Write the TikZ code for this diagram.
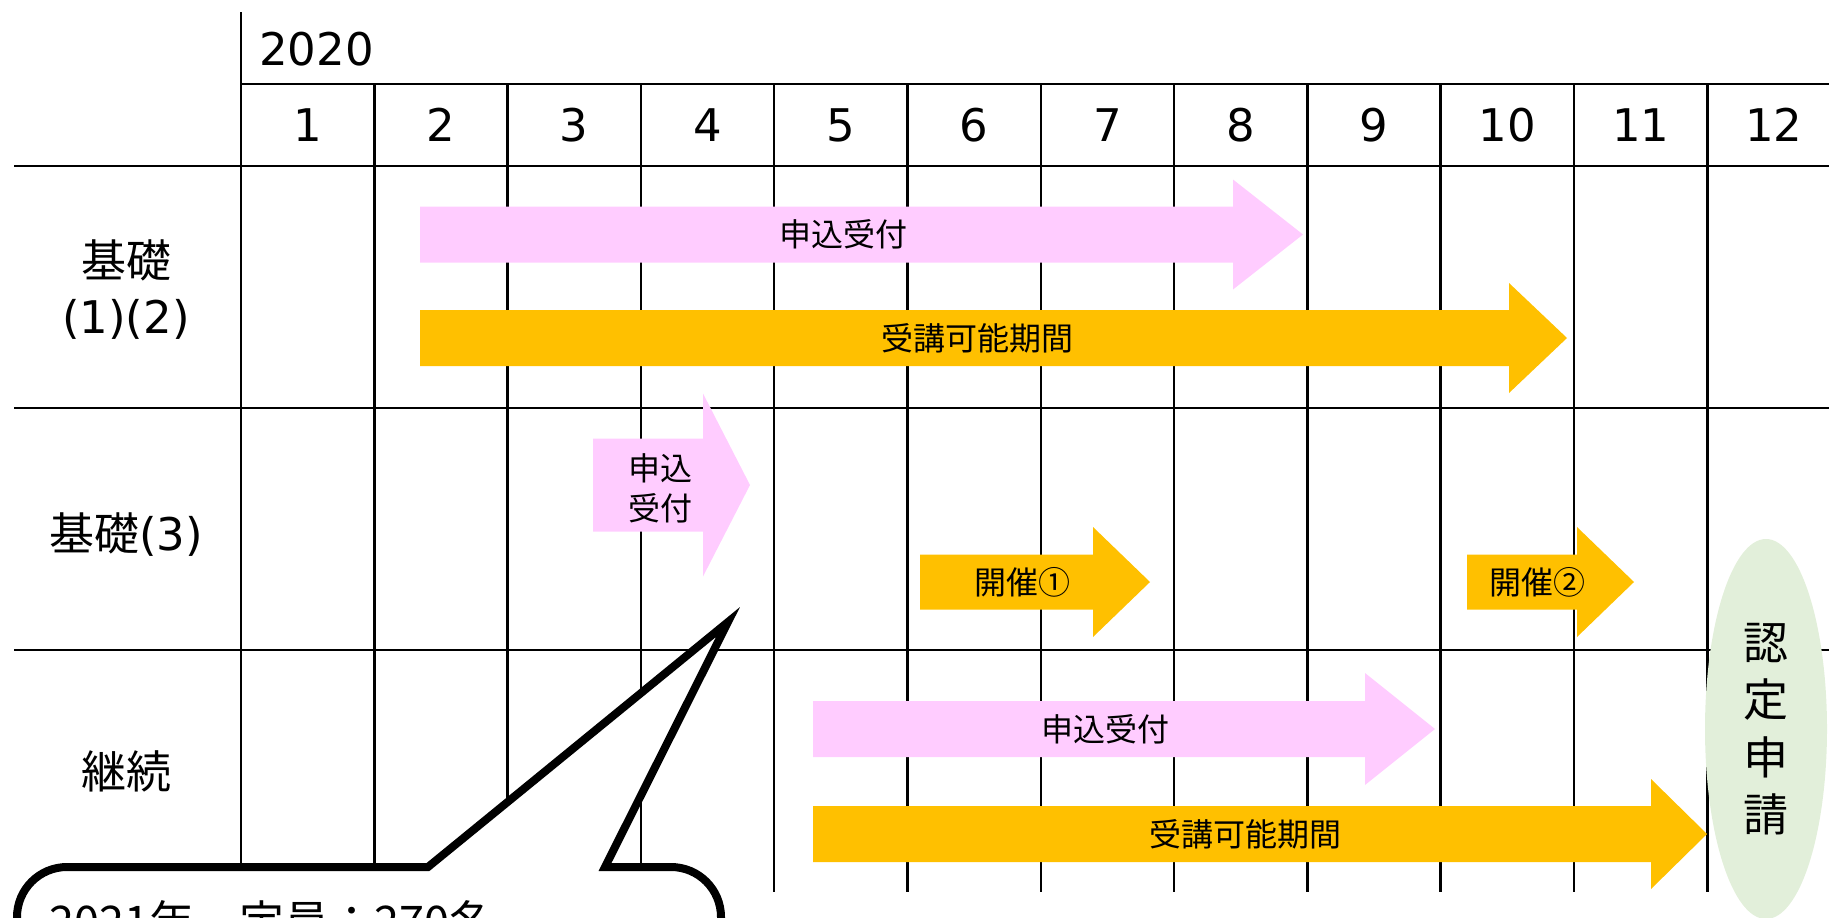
\documentclass[tikz,border=0pt]{standalone}
\usepackage{fontspec}
\usetikzlibrary{shapes.geometric}
\setmainfont{DejaVu Sans}
\newfontfamily\cjk{Noto Sans CJK JP}
\definecolor{pinkA}{HTML}{FFCCFF}
\definecolor{orangeA}{HTML}{FFC000}
\definecolor{greenA}{HTML}{E2EFDA}
\newcommand\barrow[7]{%
  \fill[#1] (#2,#5-#6) -- (#3,#5-#6) -- (#3,#5-#7) -- (#4,#5) -- (#3,#5+#7) -- (#3,#5+#6) -- (#2,#5+#6) -- cycle;}
\begin{document}
\begin{tikzpicture}[x=1pt,y=-1pt,
  gridline/.style={line width=2.5pt, black},
  big/.style={font=\fontsize{45}{54}\selectfont, inner sep=0pt, text height=33pt, text depth=0pt},
  bigj/.style={font=\cjk\fontsize{45}{54}\selectfont, inner sep=0pt, text height=33pt, text depth=0pt},
  lab/.style={font=\cjk\fontsize{32}{38}\selectfont, inner sep=0pt, text height=23.5pt, text depth=0pt},
  pinkbar/.style={fill=pinkA},
  orangebar/.style={fill=orangeA},
  callout/.style={fill=white, draw=black, line width=8pt, line join=miter},
]
\useasboundingbox (0,0) rectangle (1829,918);
\clip (0,0) rectangle (1829,918);
% grid
\draw[gridline] (241,12) -- (241,892);
\foreach \k in {1,...,11} {
  \draw[gridline] (241+133.3*\k,84) -- (241+133.3*\k,892);
}
\draw[gridline] (241,84) -- (1829,84);
\draw[gridline] (14,166) -- (1829,166);
\draw[gridline] (14,408) -- (1829,408);
\draw[gridline] (14,650) -- (1829,650);
% header
\node[big, anchor=west] (year) at (259,49) {2020};
\foreach \k in {0,...,11} {
  \pgfmathtruncatemacro{\m}{\k+1}
  \node[big] (m\m) at (241+133.3*\k+66.65,125) {\m};
}
% row labels
\node[bigj] (r1a) at (126,261) {基礎};
\node[big] (r1b) at (126,317) {(1)(2)};
\node[big] (r2) at (126,534) {{\cjk 基礎}(3)};
\node[bigj] (r3) at (126,772) {継続};
% arrows
\barrow{pinkbar}{420}{1233}{1303}{234.5}{28}{55}
\barrow{orangebar}{420}{1509}{1567}{338}{28}{55}
\barrow{pinkbar}{593}{703}{750}{485}{46.5}{91.5}
\barrow{orangebar}{920}{1093}{1150}{582}{27.5}{55}
\barrow{orangebar}{1467}{1577}{1634}{582}{27.5}{55}
\barrow{pinkbar}{813}{1365}{1435}{729}{28}{56}
\barrow{orangebar}{813}{1651}{1707}{834}{28}{55}
% arrow labels
\node[lab] (a1) at (843,234.5) {申込受付};
\node[lab] (a2) at (977,339) {受講可能期間};
\node[lab] (a3a) at (660,469) {申込};
\node[lab] (a3b) at (660,508.6) {受付};
\node[lab] (a4) at (1022,583) {開催①};
\node[lab] (a5) at (1537,583) {開催②};
\node[lab] (a6) at (1105,730) {申込受付};
\node[lab] (a7) at (1245,835) {受講可能期間};
% certification ellipse
\node[ellipse, fill=greenA, minimum width=122pt, minimum height=380pt, inner sep=0pt,
      align=center, font=\cjk\fontsize{45}{57.5}\selectfont] (nintei) at (1766,729) {認\\定\\申\\請};
% callout
\filldraw[callout] (17,1000) -- (17,917) .. controls (17,889.4) and (39.4,867) .. (67,867)
  -- (428,867) -- (728,622) -- (605,867) -- (671,867)
  .. controls (698.6,867) and (721,889.4) .. (721,917) -- (721,1000);
\node[font=\cjk\fontsize{45}{54}\selectfont, inner sep=0pt, anchor=base west] (note) at (49,938) {2021年　定員：270名};
\end{tikzpicture}
\end{document}
